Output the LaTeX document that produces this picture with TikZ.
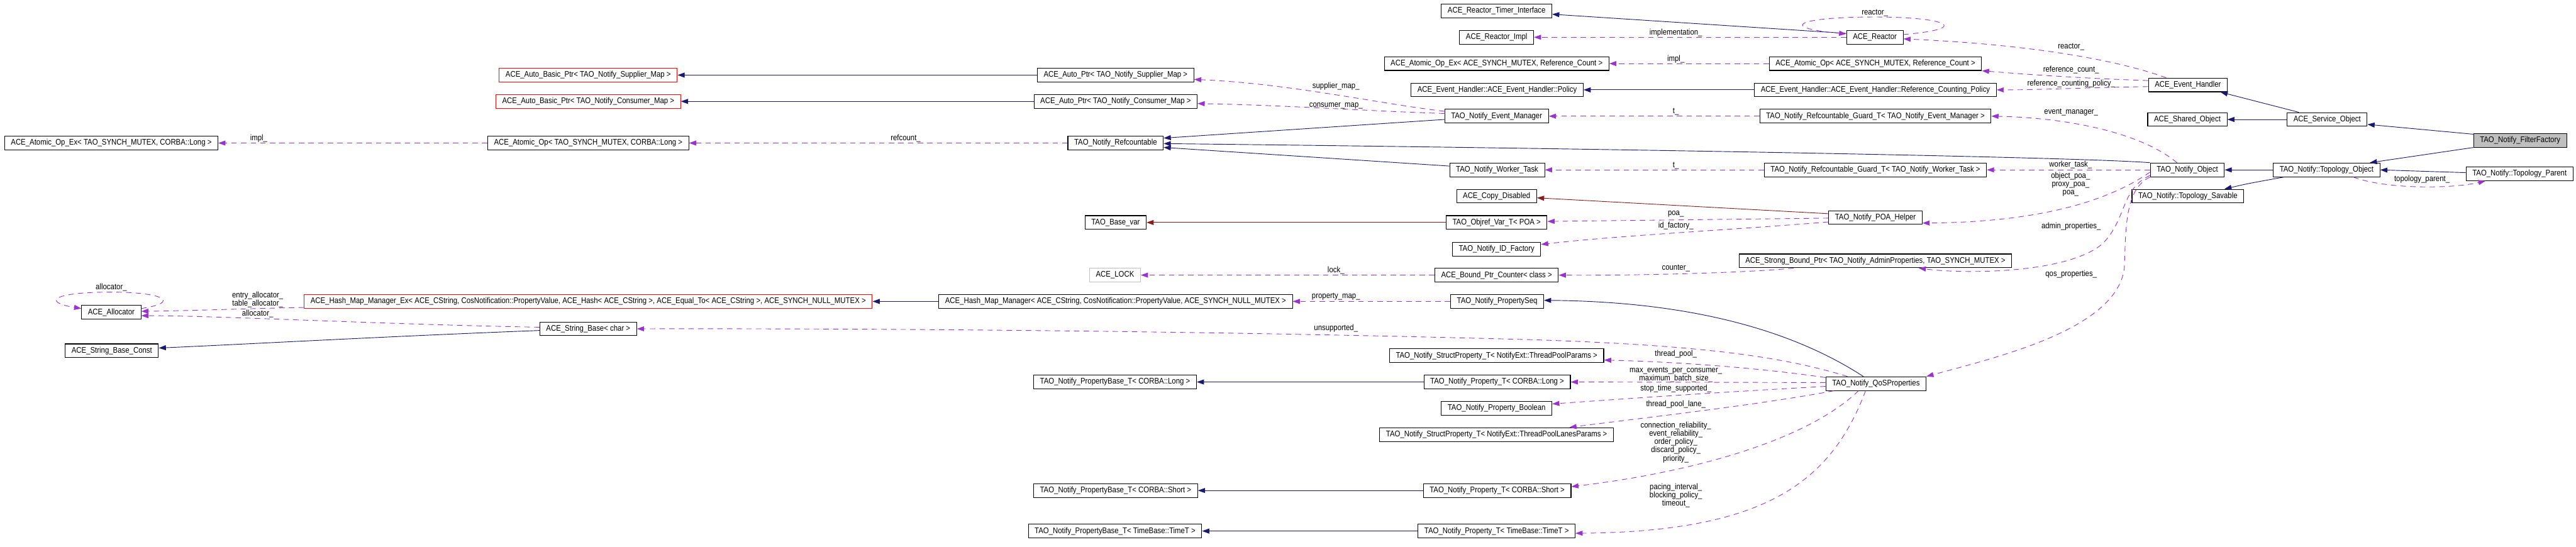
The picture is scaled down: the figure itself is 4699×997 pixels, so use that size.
\documentclass[tikz,border=0pt]{standalone}
\usepackage{fontspec}
\setmainfont{Liberation Sans}[FakeStretch=0.875]
\usetikzlibrary{arrows.meta, calc}
\definecolor{inhblue}{HTML}{191970}
\definecolor{usepurple}{HTML}{9A32CD}
\definecolor{privred}{HTML}{8B1A1A}
\definecolor{boxgray}{HTML}{BFBFBF}

\begin{document}
\begin{tikzpicture}[x=0.01cm, y=-0.01cm,
    font=\fontsize{4.25}{4.3}\selectfont,
    cls/.style={draw=black, line width=0.35pt, fill=white, inner xsep=3.3pt,
                inner ysep=0pt, minimum height=0.25cm},
    clsred/.style={cls, draw=red},
    clsgray/.style={cls, draw=boxgray},
    clsself/.style={cls, fill=boxgray},
    lbl/.style={inner sep=0pt, align=center},
    pub/.style={draw=inhblue, line width=0.3pt, -{Triangle[length=3.7pt, width=2.6pt]}},
    priv/.style={pub, draw=privred},
    use/.style={pub, draw=usepurple, dash pattern=on 2.8pt off 2.2pt}]
  \useasboundingbox (0,0) rectangle (4699,997);

  % Left column
  \node[cls] (aoTaoEx) at (203,261) {ACE\_Atomic\_Op\_Ex< TAO\_SYNCH\_MUTEX, CORBA::Long >};
  \node[cls] (alloc) at (203,570) {ACE\_Allocator};
  \node[cls] (strConst) at (204,640) {ACE\_String\_Base\_Const};

  % Second column
  \node[clsred] (basicSup) at (1073,137) {ACE\_Auto\_Basic\_Ptr< TAO\_Notify\_Supplier\_Map >};
  \node[clsred] (basicCon) at (1073,185) {ACE\_Auto\_Basic\_Ptr< TAO\_Notify\_Consumer\_Map >};
  \node[cls] (aoTao) at (1073,261) {ACE\_Atomic\_Op< TAO\_SYNCH\_MUTEX, CORBA::Long >};
  \node[clsred] (hashEx) at (1073,550) {ACE\_Hash\_Map\_Manager\_Ex< ACE\_CString, CosNotification::PropertyValue, ACE\_Hash< ACE\_CString >, ACE\_Equal\_To< ACE\_CString >, ACE\_SYNCH\_NULL\_MUTEX >};
  \node[cls] (strChar) at (1073,600) {ACE\_String\_Base< char >};

  % Third column
  \node[cls] (autoSup) at (2035,137) {ACE\_Auto\_Ptr< TAO\_Notify\_Supplier\_Map >};
  \node[cls] (autoCon) at (2035,185) {ACE\_Auto\_Ptr< TAO\_Notify\_Consumer\_Map >};
  \node[cls] (refcnt) at (2035,261) {TAO\_Notify\_Refcountable};
  \node[cls] (baseVar) at (2035,406) {TAO\_Base\_var};
  \node[clsgray] (lock) at (2034,502) {ACE\_LOCK};
  \node[cls] (hashMap) at (2035,550) {ACE\_Hash\_Map\_Manager< ACE\_CString, CosNotification::PropertyValue, ACE\_SYNCH\_NULL\_MUTEX >};
  \node[cls] (pbLong) at (2034,697) {TAO\_Notify\_PropertyBase\_T< CORBA::Long >};
  \node[cls] (pbShort) at (2035,895) {TAO\_Notify\_PropertyBase\_T< CORBA::Short >};
  \node[cls] (pbTime) at (2034,969) {TAO\_Notify\_PropertyBase\_T< TimeBase::TimeT >};

  % Fourth column
  \node[cls] (timerIf) at (2730,20) {ACE\_Reactor\_Timer\_Interface};
  \node[cls] (reactorImpl) at (2730,68) {ACE\_Reactor\_Impl};
  \node[cls] (aoRefEx) at (2730,116) {ACE\_Atomic\_Op\_Ex< ACE\_SYNCH\_MUTEX, Reference\_Count >};
  \node[cls] (ehPolicy) at (2731,164) {ACE\_Event\_Handler::ACE\_Event\_Handler::Policy};
  \node[cls] (evMgr) at (2730,212) {TAO\_Notify\_Event\_Manager};
  \node[cls] (worker) at (2731,310) {TAO\_Notify\_Worker\_Task};
  \node[cls] (copyDis) at (2730,358) {ACE\_Copy\_Disabled};
  \node[cls] (objref) at (2730,406) {TAO\_Objref\_Var\_T< POA >};
  \node[cls] (idFact) at (2730,455) {TAO\_Notify\_ID\_Factory};
  \node[cls] (boundCnt) at (2730,502) {ACE\_Bound\_Ptr\_Counter< class >};
  \node[cls] (propSeq) at (2731,550) {TAO\_Notify\_PropertySeq};
  \node[cls] (spPool) at (2730,649) {TAO\_Notify\_StructProperty\_T< NotifyExt::ThreadPoolParams >};
  \node[cls] (pLong) at (2731,697) {TAO\_Notify\_Property\_T< CORBA::Long >};
  \node[cls] (pBool) at (2730,745) {TAO\_Notify\_Property\_Boolean};
  \node[cls] (spLanes) at (2730,793) {TAO\_Notify\_StructProperty\_T< NotifyExt::ThreadPoolLanesParams >};
  \node[cls] (pShort) at (2731,895) {TAO\_Notify\_Property\_T< CORBA::Short >};
  \node[cls] (pTime) at (2730,969) {TAO\_Notify\_Property\_T< TimeBase::TimeT >};

  % Fifth column
  \node[cls] (reactor) at (3420,68) {ACE\_Reactor};
  \node[cls] (aoRef) at (3421,116) {ACE\_Atomic\_Op< ACE\_SYNCH\_MUTEX, Reference\_Count >};
  \node[cls] (rcPolicy) at (3421,164) {ACE\_Event\_Handler::ACE\_Event\_Handler::Reference\_Counting\_Policy};
  \node[cls] (guardEM) at (3421,212) {TAO\_Notify\_Refcountable\_Guard\_T< TAO\_Notify\_Event\_Manager >};
  \node[cls] (guardWT) at (3421,310) {TAO\_Notify\_Refcountable\_Guard\_T< TAO\_Notify\_Worker\_Task >};
  \node[cls] (poaHelp) at (3421,397) {TAO\_Notify\_POA\_Helper};
  \node[cls] (strongB) at (3421,476) {ACE\_Strong\_Bound\_Ptr< TAO\_Notify\_AdminProperties, TAO\_SYNCH\_MUTEX >};
  \node[cls] (qos) at (3422,700) {TAO\_Notify\_QoSProperties};

  % Right part
  \node[cls] (evHandler) at (3991,155) {ACE\_Event\_Handler};
  \node[cls] (sharedObj) at (3990,218) {ACE\_Shared\_Object};
  \node[cls] (notifyObj) at (3990,310) {TAO\_Notify\_Object};
  \node[cls] (topoSav) at (3991,358) {TAO\_Notify::Topology\_Savable};
  \node[cls] (serviceObj) at (4245,218) {ACE\_Service\_Object};
  \node[cls] (topoObj) at (4244,310) {TAO\_Notify::Topology\_Object};
  \node[clsself] (filterFact) at (4597,256) {TAO\_Notify\_FilterFactory};
  \node[cls] (topoParent) at (4596,317) {TAO\_Notify::Topology\_Parent};

  % Edge labels
  \node[lbl] (lbImplTao) at (472,252) {impl\_};
  \node[lbl] (lbAllocSelf) at (203,524) {allocator\_};
  \node[lbl] (lbTables) at (470,547) {entry\_allocator\_\\table\_allocator\_};
  \node[lbl] (lbAlloc) at (470,573) {allocator\_};
  \node[lbl] (lbRefcount) at (1652,252) {refcount\_};
  \node[lbl] (lbSupMap) at (2437,157) {supplier\_map\_};
  \node[lbl] (lbConMap) at (2437,193) {consumer\_map\_};
  \node[lbl] (lbLock) at (2437,493) {lock\_};
  \node[lbl] (lbPropMap) at (2437,541) {property\_map\_};
  \node[lbl] (lbUnsup) at (2437,599) {unsupported\_};
  \node[lbl] (lbImpl) at (3057,60) {implementation\_};
  \node[lbl] (lbImplRef) at (3057,108) {impl\_};
  \node[lbl] (lbTEM) at (3057,204) {t\_};
  \node[lbl] (lbTWT) at (3057,302) {t\_};
  \node[lbl] (lbPoa) at (3057,391) {poa\_};
  \node[lbl] (lbIdFact) at (3057,412) {id\_factory\_};
  \node[lbl] (lbCounter) at (3057,489) {counter\_};
  \node[lbl] (lbPool) at (3057,646) {thread\_pool\_};
  \node[lbl] (lbLong) at (3057,684) {max\_events\_per\_consumer\_\\maximum\_batch\_size\_};
  \node[lbl] (lbStop) at (3057,709) {stop\_time\_supported\_};
  \node[lbl] (lbLane) at (3057,738) {thread\_pool\_lane\_};
  \node[lbl] (lbShort) at (3057,807) {connection\_reliability\_\\event\_reliability\_\\order\_policy\_\\discard\_policy\_\\priority\_};
  \node[lbl] (lbTime) at (3057,904) {pacing\_interval\_\\blocking\_policy\_\\timeout\_};
  \node[lbl] (lbReactorSelf) at (3420,24) {reactor\_};
  \node[lbl] (lbReactor) at (3778,85) {reactor\_};
  \node[lbl] (lbRefCnt) at (3778,128) {reference\_count\_};
  \node[lbl] (lbRefPol) at (3778,153) {reference\_counting\_policy\_};
  \node[lbl] (lbEvMgr) at (3778,205) {event\_manager\_};
  \node[lbl] (lbWorker) at (3777,301) {worker\_task\_};
  \node[lbl] (lbPoas) at (3777,336) {object\_poa\_\\proxy\_poa\_\\poa\_};
  \node[lbl] (lbAdmin) at (3778,413) {admin\_properties\_};
  \node[lbl] (lbQos) at (3778,500) {qos\_properties\_};
  \node[lbl] (lbTopo) at (4418,327) {topology\_parent\_};

  % Inheritance
  \draw[pub] ($(reactor.north west)+(0,6)$) -- ($(timerIf.east)+(0,6)$);
  \draw[pub] (rcPolicy.west) -- (ehPolicy.east);
  \draw[pub] ($(evMgr.west)+(0,6)$) -- ($(refcnt.east)+(0,-9)$);
  \draw[pub] (notifyObj.north west) .. controls (3800,287) and (3000,272) .. ($(refcnt.east)+(0,1)$);
  \draw[pub] ($(worker.west)+(0,-7)$) -- ($(refcnt.east)+(0,8)$);
  \draw[pub] (autoSup.west) -- (basicSup.east);
  \draw[pub] (autoCon.west) -- (basicCon.east);
  \draw[pub] (hashMap.west) -- (hashEx.east);
  \draw[pub] ($(strChar.west)+(0,3)$) .. controls (700,614) and (450,628) .. ($(strConst.east)+(0,-5)$);
  \draw[pub] ($(qos.north west)+(69,0)$) .. controls (3250,590) and (3050,550) .. ($(propSeq.east)+(0,-2)$);
  \draw[pub] (pLong.west) -- (pbLong.east);
  \draw[pub] (pShort.west) -- (pbShort.east);
  \draw[pub] (pTime.west) -- (pbTime.east);
  \draw[pub] ($(serviceObj.north west)+(22,0)$) -- ($(evHandler.south east)+(-13,0)$);
  \draw[pub] (serviceObj.west) -- (sharedObj.east);
  \draw[pub] ($(filterFact.north west)+(0,2)$) -- ($(serviceObj.east)+(0,9)$);
  \draw[pub] (filterFact.south west) -- ($(topoObj.north east)+(-19,0)$);
  \draw[pub] ($(topoParent.west)+(0,-2)$) -- (topoObj.east);
  \draw[pub] (topoObj.west) -- (notifyObj.east);
  \draw[pub] ($(topoObj.south west)+(20,0)$) .. controls (4100,335) .. ($(topoSav.north east)+(-36,0)$);
  \draw[priv] ($(poaHelp.north west)+(0,6)$) -- ($(copyDis.east)+(0,3)$);
  \draw[priv] (objref.west) -- (baseVar.east);

  % Usage
  \draw[use] ($(reactor.east)+(0,-5)$) .. controls (3600,52) and (3550,31) .. (3420,31)
    .. controls (3280,31) and (3240,50) .. ($(reactor.north west)+(0,7)$);
  \draw[use] (reactor.west) -- (reactorImpl.east);
  \draw[use] (aoRef.west) -- (aoRefEx.east);
  \draw[use] (guardEM.west) -- (evMgr.east);
  \draw[use] (guardWT.west) -- (worker.east);
  \draw[use] ($(poaHelp.west)+(0,1)$) -- ($(objref.east)+(0,-2)$);
  \draw[use] ($(poaHelp.west)+(0,8)$) .. controls (3150,420) and (2950,430) .. ($(idFact.east)+(0,-9)$);
  \draw[use] ($(evMgr.west)+(0,-9)$) .. controls (2520,190) and (2350,152) .. ($(autoSup.east)+(0,8)$);
  \draw[use] ($(evMgr.west)+(0,-5)$) .. controls (2500,203) and (2350,192) .. ($(autoCon.east)+(0,4)$);
  \draw[use] (refcnt.west) -- (aoTao.east);
  \draw[use] (aoTao.west) -- (aoTaoEx.east);
  \draw[use] ($(evHandler.north west)+(33,0)$) .. controls (3850,105) and (3680,80) .. ($(reactor.east)+(0,3)$);
  \draw[use] ($(evHandler.west)+(0,-8)$) .. controls (3800,143) and (3700,136) .. (aoRef.south east);
  \draw[use] ($(evHandler.west)+(0,3)$) .. controls (3800,160) and (3720,164) .. (rcPolicy.east);
  \draw[use] ($(notifyObj.north west)+(49,0)$) .. controls (3910,245) and (3780,215) .. (guardEM.east);
  \draw[use] (notifyObj.west) -- (guardWT.east);
  \draw[use] ($(notifyObj.west)+(0,4)$) .. controls (3870,350) and (3760,405) .. ($(poaHelp.east)+(0,10)$);
  \draw[use] ($(notifyObj.south west)+(0,-3)$) .. controls (3868,345) and (3880,400) .. (3835,445)
    .. controls (3770,500) and (3580,500) .. ($(strongB.south)+(79,0)$);
  \draw[use] (notifyObj.south west) .. controls (3875,345) and (3878,420) .. (3875,490)
    .. controls (3860,600) and (3650,650) .. (qos.north east);
  \draw[use] ($(strongB.south west)+(100,0)$) .. controls (3200,497) and (3000,503) .. (boundCnt.east);
  \draw[use] (boundCnt.west) -- (lock.east);
  \draw[use] (propSeq.west) -- (hashMap.east);
  \draw[use] ($(hashEx.west)+(0,11)$) .. controls (450,563) and (350,567) .. ($(alloc.east)+(0,-2)$);
  \draw[use] ($(strChar.west)+(0,-3)$) .. controls (700,592) and (400,576) .. ($(alloc.east)+(0,6)$);
  \draw[use] ($(alloc.north east)+(0,6)$) .. controls (330,552) and (300,533) .. (203,533)
    .. controls (90,533) and (80,552) .. ($(alloc.north west)+(0,6)$);
  \draw[use] ($(qos.north west)+(40,0)$) .. controls (3250,650) and (3100,630) .. (2800,620)
    .. controls (2300,606) and (1700,599) .. (strChar.east);
  \draw[use] ($(qos.north west)+(0,2)$) .. controls (3200,670) and (3050,660) .. ($(spPool.east)+(0,8)$);
  \draw[use] ($(qos.west)+(0,-2)$) -- (pLong.east);
  \draw[use] ($(qos.west)+(0,5)$) .. controls (3150,715) and (3000,725) .. ($(pBool.east)+(0,-8)$);
  \draw[use] ($(qos.south west)+(15,0)$) .. controls (3200,740) and (3000,762) .. ($(spLanes.north east)+(-81,0)$);
  \draw[use] ($(qos.south)+(-32,0)$) .. controls (3300,800) and (3100,860) .. ($(pShort.east)+(0,-7)$);
  \draw[use] ($(qos.south)+(-19,0)$) .. controls (3340,880) and (3220,970) .. ($(pTime.east)+(0,4)$);
  \draw[use] ($(topoObj.south east)+(-49,0)$) .. controls (4350,345) and (4470,345) .. ($(topoParent.south west)+(36,0)$);
\end{tikzpicture}
\end{document}
